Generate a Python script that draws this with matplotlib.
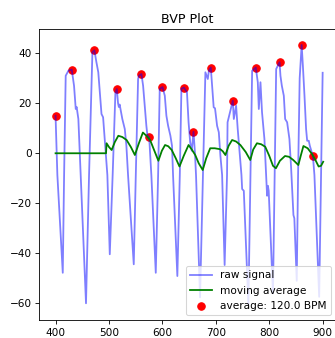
import numpy as np
import matplotlib as mpl
mpl.use('Agg')
import matplotlib.pyplot as plt

# raw BVP signal, traced vertices (sample index, value)
rawX = [400, 403.4, 413.5, 416, 419, 424, 430.3, 434.6, 437.8, 439.5,
        442.7, 447, 457, 462.7, 469, 472.7, 476.5, 480, 483.3, 486,
        489, 497, 501.5, 507, 512, 514.6, 517, 518.5, 520, 525,
        529.6, 532.6, 535.7, 546.4, 550.2, 554.5, 556, 560.8, 563.9, 567,
        570, 572, 575.3, 579.4, 587.6, 592, 595, 600.2, 604.5, 607.5,
        610.7, 615, 618, 620, 628, 632.6, 635.6, 640.2, 646, 649,
        652, 655, 658.2, 661, 663, 670.5, 676, 680.5, 685, 687,
        690.6, 693, 696, 698.5, 702.4, 705.6, 708.6, 711.8, 716.5, 721,
        722, 724.3, 731.8, 733.7, 738, 741, 748, 749.3, 752.4, 761,
        765, 768, 774.8, 778.6, 780.5, 783.6, 786.5, 791, 794, 796,
        797.5, 799, 807, 810.5, 813, 819.3, 821, 823.6, 827.3, 829.8,
        833.5, 837.8, 841, 845.3, 847, 851.5, 854, 857, 860.7, 863,
        866, 869, 871, 874, 876, 881.8, 884.6, 893.5, 897, 900]
rawY = [15.0, -8.7, -47.8, -8.7, 31, 33, 33.5, 27, 17.7, 18.5,
        13.7, -8.7, -60, -8.7, 40.4, 41.2, 36.4, 32.4, 23, 15.7,
        14.4, -8.7, -40.4, -8, 24, 25.7, 20, 18.5, 19.5, 13.7,
        9.7, 3, -8.7, -44.4, -8.7, 29.7, 31, 31.7, 27, 19,
        11, 7, 6.4, -9, -47.8, -8.7, 25.7, 26.5, 23, 15,
        11, 7, 3, -9, -49.1, -8.7, 25.7, 26.3, 24.4, 12.4,
        4.4, 1, 8.6, 0, -9, -57.6, -9, 32.4, 29.7, 33,
        34.3, 27, 18.4, 18, 11, 8.4, -1, -8.7, -44.7, -8.7,
        12.4, 14.4, 21.0, 13.7, 19, 9.7, -8.7, -14.3, -15, -60.5,
        -8, 33, 34.3, 28.4, 17.7, 28.4, 16.4, 5.7, -8, -17,
        -13, -15, -56, -5, 33.7, 36.4, 31, 27, 23, 13.7,
        12.4, 5.7, -6, -24.7, -26, -51, -8.7, 30, 43.3, 35,
        23, 9.7, 5, 5, 3, -1.2, -8.7, -57.4, -8.7, 32.2]

# moving average
maX = [400, 494.5, 495.5, 500, 505, 511, 517.5, 525, 533, 541,
       548.5, 556, 563.5, 570, 577, 585, 592.5, 599, 605, 611,
       617.5, 625, 632, 640, 649, 655, 661.5, 668, 675.5, 682,
       689.5, 698, 708.5, 713, 718, 724, 730.5, 738, 746, 756,
       764.5, 770, 777, 785, 792.5, 800, 807, 812.5, 820, 829.5,
       837, 845, 854.5, 859, 864, 872, 880, 886, 892.5, 897,
       901]
maY = [0, 0, 4, 2.5, 1.3, 4.5, 7, 6.5, 5.3, 2.5,
       -0.7, 4, 8.3, 7, 5.3, 1, -3, 1, 3.3, 2.8,
       1.3, -2, -5.3, -1, 3.3, 1.5, -0.7, -4, -6.7, -2,
       2, 2, 1.6, 0.8, -0.7, 3, 5.3, 4.7, 3.3, 0.5,
       -2.7, 1.5, 4, 3.6, 2.6, -1, -5, -6, -3, -1.1,
       -1.4, -2.7, -4.7, -1, 2.9, 2, -0.3, -2.5, -5.3, -5,
       -3.4]

# detected peaks
peakX = [400, 430.3, 472.7, 514.6, 560.8, 575.3, 600.2, 640.2, 658.2, 690.6,
         731.8, 774.8, 819.3, 860.7, 881.8]
peakY = [15.0, 33.5, 41.2, 25.7, 31.7, 6.4, 26.5, 26.3, 8.6, 34.3,
         21.0, 34.3, 36.4, 43.3, -1.2]

bpm = 120.0

dpi = 76
fig = plt.figure(figsize=(335 / dpi, 338 / dpi), dpi=dpi)
ax = fig.add_axes([0.1164, 0.0524, 0.8866, 0.8618])
ax.set_title("BVP Plot")
ax.plot(rawX, rawY, alpha=0.5, color='blue', lw=1.7, label="raw signal")
ax.plot(maX, maY, color='green', lw=1.7, label="moving average")
ax.scatter(peakX, peakY, color='red', s=50, label="average: %.1f BPM" % bpm)
ax.set_xlim(369, 925)
ax.set_ylim(-66.8, 49.7)
ax.set_xticks([400, 500, 600, 700, 800, 900])
ax.set_yticks([-60, -40, -20, 0, 20, 40])
ax.legend(loc=4)

plt.savefig('out.png', dpi=dpi)
plt.close('all')
